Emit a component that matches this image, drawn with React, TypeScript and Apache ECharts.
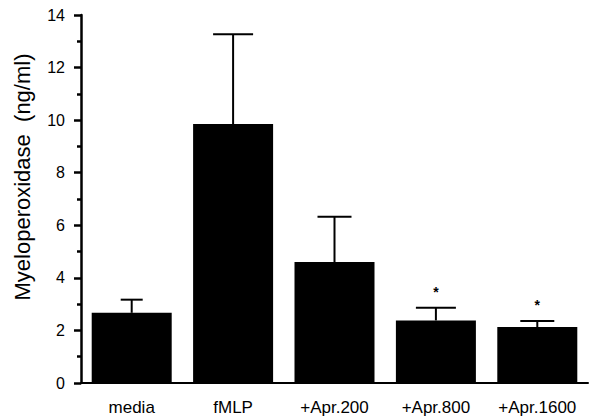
import React, { useEffect, useRef } from "react";
import * as echarts from "echarts";

const categories = ["media", "fMLP", "+Apr.200", "+Apr.800", "+Apr.1600"];
const means = [2.67, 9.85, 4.6, 2.38, 2.13];
const errors = [0.5, 3.42, 1.72, 0.48, 0.23];
const significant = [false, false, false, true, true];
const yTicks = [0, 2, 4, 6, 8, 10, 12, 14];
const yTitle = "Myeloperoxidase  (ng/ml)";

const capWidths = [22, 40, 34, 40, 34];
const FONT = "'Liberation Sans', Arial, Helvetica, sans-serif";

export default function App() {
  const ref = useRef<HTMLDivElement>(null);
  useEffect(() => {
    if (!ref.current) return;
    const chart = echarts.init(ref.current, null, { renderer: "svg" });
    const errData = categories.map((c, i) => [i, means[i], means[i] + errors[i], significant[i] ? 1 : 0]);
    chart.setOption({
      animation: false,
      backgroundColor: "#ffffff",
      grid: { left: 81, right: 4, top: 15, bottom: 36 },
      graphic: [
        {
          type: "text",
          x: 22,
          y: 177,
          rotation: Math.PI / 2,
          style: {
            text: yTitle,
            fill: "#000",
            font: `22px ${FONT}`,
            align: "center",
            verticalAlign: "middle",
          },
        },
      ],
      xAxis: {
        type: "category",
        data: categories,
        axisLine: { lineStyle: { color: "#000", width: 2 } },
        axisTick: { show: false },
        axisLabel: { color: "#000", fontSize: 17, fontFamily: FONT, margin: 16 },
      },
      yAxis: {
        type: "value",
        min: yTicks[0],
        max: yTicks[yTicks.length - 1],
        interval: 2,
        axisLine: { show: true, lineStyle: { color: "#000", width: 2.5 } },
        axisTick: { show: true, inside: false, length: 7, lineStyle: { color: "#000", width: 2.5 } },
        minorTick: { show: true, splitNumber: 2, length: 4, lineStyle: { color: "#000", width: 2.5 } },
        splitLine: { show: false },
        minorSplitLine: { show: false },
        axisLabel: { color: "#000", fontSize: 16, fontFamily: FONT, margin: 16 },
      },
      series: [
        {
          type: "bar",
          data: means,
          barWidth: 80,
          itemStyle: { color: "#000" },
        },
        {
          type: "custom",
          data: errData,
          z: 5,
          renderItem: (params: any, api: any) => {
            const i = api.value(0);
            const lo = api.coord([i, api.value(1)]);
            const hi = api.coord([i, api.value(2)]);
            const half = capWidths[params.dataIndex] / 2;
            const children: any[] = [
              {
                type: "line",
                shape: { x1: lo[0], y1: lo[1], x2: hi[0], y2: hi[1] },
                style: { stroke: "#000", lineWidth: 2 },
              },
              {
                type: "line",
                shape: { x1: hi[0] - half, y1: hi[1], x2: hi[0] + half, y2: hi[1] },
                style: { stroke: "#000", lineWidth: 2 },
              },
            ];
            if (api.value(3) === 1) {
              children.push({
                type: "text",
                x: hi[0],
                y: hi[1] - 16,
                style: {
                  text: "*",
                  fill: "#000",
                  font: `bold 14px ${FONT}`,
                  align: "center",
                  verticalAlign: "middle",
                },
              });
            }
            return { type: "group", children };
          },
        },
      ],
    });
    return () => chart.dispose();
  }, []);
  return <div ref={ref} style={{ width: 592, height: 419, position: "absolute", left: 0, top: 0 }} />;
}
